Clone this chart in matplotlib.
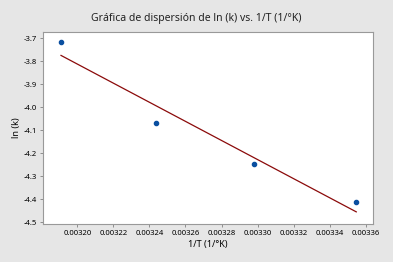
import numpy as np
import matplotlib
matplotlib.use("Agg")
import matplotlib.pyplot as plt

# 1/T values (1/K) and ln(k)
inv_T = [0.0031909, 0.0032437, 0.0032982, 0.0033548]
ln_k = [-3.716, -4.067, -4.247, -4.415]

x_ticks = [0.00320, 0.00322, 0.00324, 0.00326, 0.00328, 0.00330, 0.00332, 0.00334, 0.00336]
y_ticks = [-3.7, -3.8, -3.9, -4.0, -4.1, -4.2, -4.3, -4.4, -4.5]

plt.rcParams['font.family'] = ['Noto Sans', 'DejaVu Sans']

fig = plt.figure(figsize=(3.93, 2.62), dpi=100, facecolor='#e6e6e6')
ax = fig.add_axes([43 / 393, 1 - 224 / 262, 330 / 393, 192 / 262])
ax.set_facecolor('white')

# regression line
m, b = np.polyfit(inv_T, ln_k, 1)
xs = np.array([min(inv_T), max(inv_T)])
ax.plot(xs, m * xs + b, color='#8b0a0a', lw=0.9)
ax.scatter(inv_T, ln_k, s=9, marker='o', color='#0a4fa0', zorder=3)

ax.set_xlim(0.0031809, 0.0033641)
ax.set_ylim(-4.5087, -3.6726)
ax.set_xticks(x_ticks)
ax.set_xticklabels(['%.5f' % v for v in x_ticks])
ax.set_yticks(y_ticks)
ax.set_yticklabels(['%.1f' % v for v in y_ticks])
ax.tick_params(labelsize=5.5, length=2.5, width=0.6, color='#808080', pad=2)
for s in ax.spines.values():
    s.set_color('#999999')
    s.set_linewidth(0.8)

ax.set_xlabel('1/T (1/°K)', fontsize=6.5, labelpad=2)
ax.set_ylabel('ln (k)', fontsize=6.5, labelpad=2)
fig.text(0.5, 1 - 19 / 262, 'Gráfica de dispersión de ln (k) vs. 1/T (1/°K)',
         ha='center', va='center', fontsize=7.5, color='#222222')

fig.savefig('out.png', dpi=100, facecolor=fig.get_facecolor())
